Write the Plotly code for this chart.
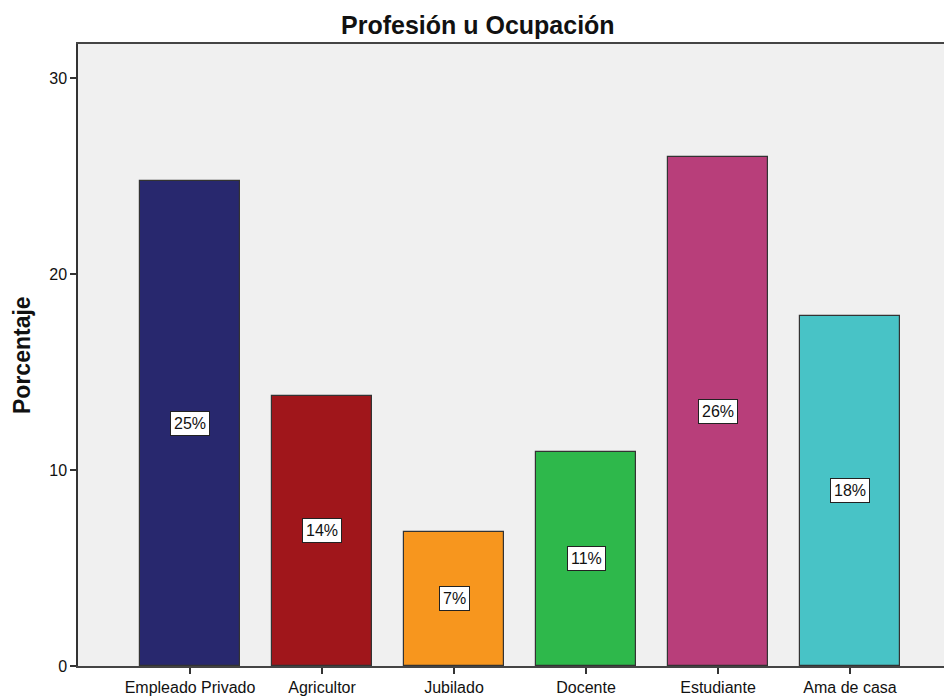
import plotly.graph_objects as go

categories = ["Empleado Privado", "Agricultor", "Jubilado", "Docente", "Estudiante", "Ama de casa"]
values = [24.74, 13.78, 6.84, 10.92, 25.97, 17.86]
colors = ["#28286E", "#A0161B", "#F7961E", "#2EB84B", "#B83E7A", "#48C3C6"]
y_ticks = [0, 10, 20, 30]
title_text = "Profesión u Ocupación"
y_title = "Porcentaje"

W, H = 944, 699
ML, MR, MT, MB = 78, 0, 44, 33
plot_w = W - ML - MR
plot_h = H - MT - MB

x_idx = list(range(len(categories)))

fig = go.Figure()
fig.add_trace(go.Bar(
    x=x_idx, y=values, width=0.758,
    marker=dict(color=colors, line=dict(color="#333333", width=1.2)),
    hoverinfo="skip", showlegend=False,
))

annotations = []
for i, v in zip(x_idx, values):
    annotations.append(dict(
        x=i, y=v / 2, xref="x", yref="y", text=f"{round(v)}%",
        showarrow=False, bgcolor="white", bordercolor="#222222", borderwidth=1,
        borderpad=3, font=dict(family="Liberation Sans, Arial", size=16, color="#111111"),
    ))

annotations.append(dict(
    x=(22 - ML) / plot_w, y=0.5, xref="paper", yref="paper", text=f"<b>{y_title}</b>",
    textangle=-90, showarrow=False, xanchor="center", yanchor="middle",
    font=dict(family="Liberation Sans, Arial", size=23, color="#111111"),
))
annotations.append(dict(
    x=(478 - ML) / plot_w, y=1 + (MT - 25) / plot_h, xref="paper", yref="paper",
    text=f"<b>{title_text}</b>",
    showarrow=False, xanchor="center", yanchor="middle",
    font=dict(family="Liberation Sans, Arial", size=25, color="#111111"),
))

fig.update_layout(
    width=W, height=H,
    margin=dict(l=ML, r=MR, t=MT, b=MB, pad=0),
    paper_bgcolor="white", plot_bgcolor="#F0F0F0",
    annotations=annotations,
    bargap=0,
)
fig.update_xaxes(
    range=[-112 / 132, (plot_w - 112) / 132],
    tickmode="array", tickvals=x_idx, ticktext=categories,
    ticks="outside", ticklen=6, tickwidth=1.5, tickcolor="#333333",
    showline=True, linecolor="#444444", linewidth=1.8, mirror=True,
    showgrid=False, zeroline=False,
    tickfont=dict(family="Liberation Sans, Arial", size=16, color="#111111"),
)
fig.update_yaxes(
    range=[0, (666 - 44) / 19.6],
    tickmode="array", tickvals=y_ticks,
    ticks="outside", ticklen=6, tickwidth=1.5, tickcolor="#333333",
    showline=True, linecolor="#333333", linewidth=1.5,
    showgrid=False, zeroline=False,
    tickfont=dict(family="Liberation Sans, Arial", size=16, color="#111111"),
)

fig.write_html(
    "out.html",
    config={"displayModeBar": False},
    post_script="document.body.style.margin='0';document.body.style.overflow='hidden';",
)
